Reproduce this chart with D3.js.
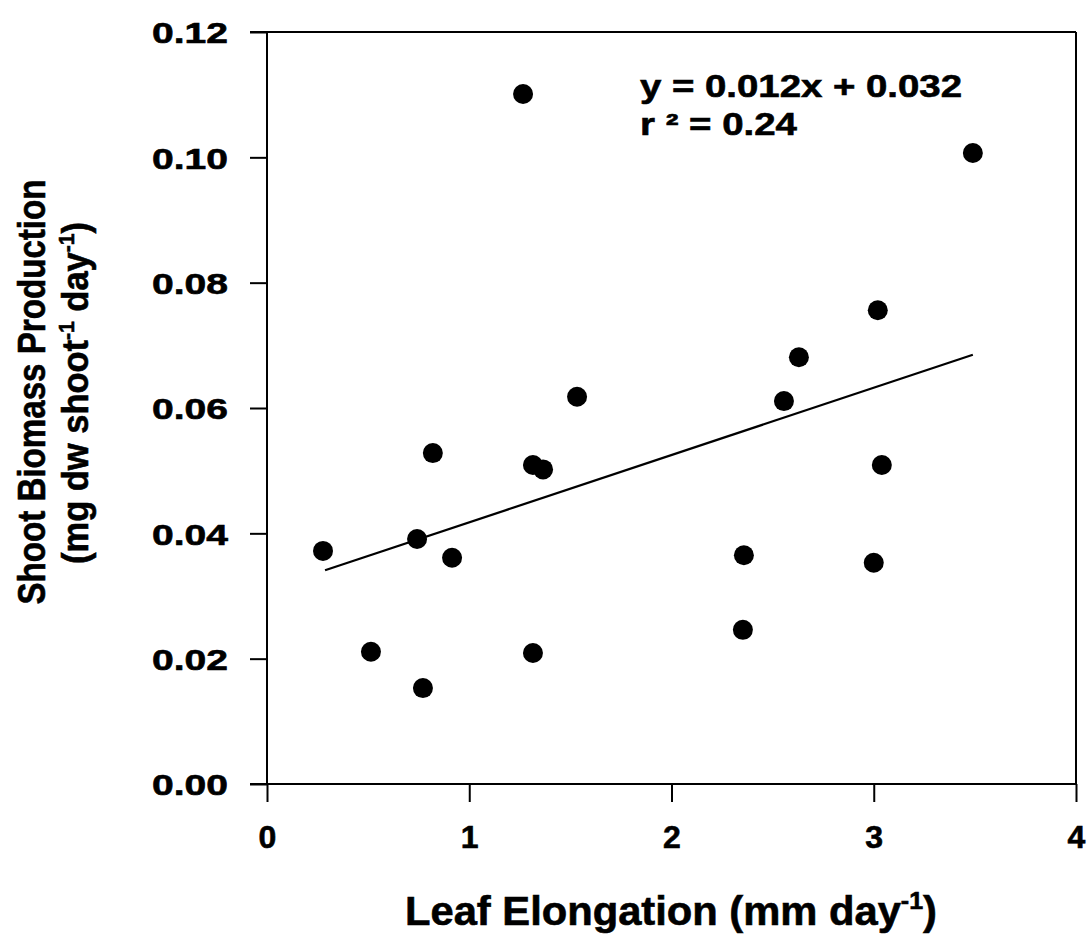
<!DOCTYPE html>
<html>
<head>
<meta charset="utf-8">
<script src="https://cdn.jsdelivr.net/npm/d3@7"></script>
<style>
  html, body { margin: 0; padding: 0; background: #fff; }
  svg { display: block; }
  text { font-family: "Liberation Sans", Arial, sans-serif; font-weight: bold; fill: #000; stroke: #000; stroke-width: 0.6px; }
</style>
</head>
<body>
<svg id="chart" width="1092" height="940"></svg>
<script>
// ---- data ----
const leafElongation = [0.277, 0.514, 0.742, 0.771, 0.915, 0.82, 1.266, 1.315, 1.315, 1.365, 1.533, 2.358, 2.353, 2.556, 2.63, 3.02, 3.0, 3.04, 3.49];
const shootBiomass   = [0.0372, 0.0211, 0.0391, 0.0153, 0.0361, 0.0528, 0.1101, 0.0209, 0.0509, 0.0502, 0.0618, 0.0365, 0.0246, 0.0611, 0.0681, 0.0756, 0.0353, 0.0509, 0.1007];
const fitLineX = [0.287, 3.49];
const fitLineY = [0.0341, 0.0685];
const xTicks = [0, 1, 2, 3, 4];
const yTicks = [0.00, 0.02, 0.04, 0.06, 0.08, 0.10, 0.12];
const equationText = "y = 0.012x + 0.032";
const rSquaredText = "r ² = 0.24";

const svg = d3.select("#chart");
const pLeft = 267, pRight = 1076, pTop = 32, pBottom = 784;

const x = d3.scaleLinear().domain([0, 4]).range([pLeft, pRight]);
const y = d3.scaleLinear().domain([0, 0.12]).range([pBottom, pTop]);

// frame (top and right)
svg.append("line").attr("x1", 250).attr("x2", pRight).attr("y1", pTop).attr("y2", pTop)
  .attr("stroke", "#000").attr("stroke-width", 2);
svg.append("line").attr("x1", pRight).attr("x2", pRight).attr("y1", pTop).attr("y2", pBottom)
  .attr("stroke", "#000").attr("stroke-width", 2);

// axes
const yAxis = svg.append("g").attr("transform", `translate(${pLeft},0)`)
  .call(d3.axisLeft(y).tickValues(yTicks).tickSize(17).tickSizeOuter(0).tickFormat(d3.format(".2f")));
const xAxis = svg.append("g").attr("transform", `translate(0,${pBottom})`)
  .call(d3.axisBottom(x).tickValues(xTicks).tickSize(18).tickSizeOuter(0).tickFormat(d3.format("d")));

[yAxis, xAxis].forEach(g => {
  g.select(".domain").attr("stroke", "#000").attr("stroke-width", 2);
  g.selectAll(".tick line").attr("stroke", "#000").attr("stroke-width", 2);
});
xAxis.select(".domain").attr("d", `M${pLeft - 17},0H${pRight}`);
yAxis.select(".domain").attr("d", `M0,${pBottom}V${pTop}`);

yAxis.selectAll(".tick text")
  .attr("x", -39).attr("dy", "0.36em")
  .style("font-size", "30px").style("font-family", '"Liberation Sans", Arial, sans-serif').style("font-weight", "bold")
  .attr("textLength", 76).attr("lengthAdjust", "spacingAndGlyphs").attr("fill", "#000");
xAxis.selectAll(".tick text")
  .attr("y", 64).attr("dy", 0)
  .style("font-size", "32px").style("font-family", '"Liberation Sans", Arial, sans-serif').style("font-weight", "bold")
  .attr("fill", "#000");

// regression line
svg.append("path")
  .datum(fitLineX.map((d, i) => [d, fitLineY[i]]))
  .attr("d", d3.line().x(d => x(d[0])).y(d => y(d[1])))
  .attr("stroke", "#000").attr("stroke-width", 2.2).attr("fill", "none");

// points
svg.append("g").selectAll("circle")
  .data(leafElongation.map((d, i) => [d, shootBiomass[i]]))
  .join("circle")
  .attr("cx", d => x(d[0])).attr("cy", d => y(d[1])).attr("r", 10).attr("fill", "#000");

// equation
svg.append("text").attr("x", 640).attr("y", 97).style("font-size", "31px")
  .attr("textLength", 322).attr("lengthAdjust", "spacingAndGlyphs").text(equationText);
svg.append("text").attr("x", 640).attr("y", 135).style("font-size", "31px")
  .attr("textLength", 157).attr("lengthAdjust", "spacingAndGlyphs").text(rSquaredText);

// x title
const xt = svg.append("text").attr("x", 405).attr("y", 925).style("font-size", "40px")
  .attr("textLength", 532).attr("lengthAdjust", "spacingAndGlyphs");
xt.append("tspan").text("Leaf Elongation (mm day");
xt.append("tspan").attr("dy", -16).style("font-size", "24px").text("-1");
xt.append("tspan").attr("dy", 16).text(")");

// y title
const yt = svg.append("g").attr("transform", "translate(0,392) rotate(-90)");
yt.append("text").attr("x", 0).attr("y", 45).attr("text-anchor", "middle").style("font-size", "39px")
  .attr("textLength", 425).attr("lengthAdjust", "spacingAndGlyphs")
  .text("Shoot Biomass Production");
const yt2 = yt.append("text").attr("x", -172).attr("y", 88).style("font-size", "36px")
  .attr("textLength", 342).attr("lengthAdjust", "spacingAndGlyphs");
yt2.append("tspan").text("(mg dw shoot");
yt2.append("tspan").attr("dy", -14).style("font-size", "22px").text("-1");
yt2.append("tspan").attr("dy", 14).text(" day");
yt2.append("tspan").attr("dy", -14).style("font-size", "22px").text("-1");
yt2.append("tspan").attr("dy", 14).text(")");
</script>
</body>
</html>
